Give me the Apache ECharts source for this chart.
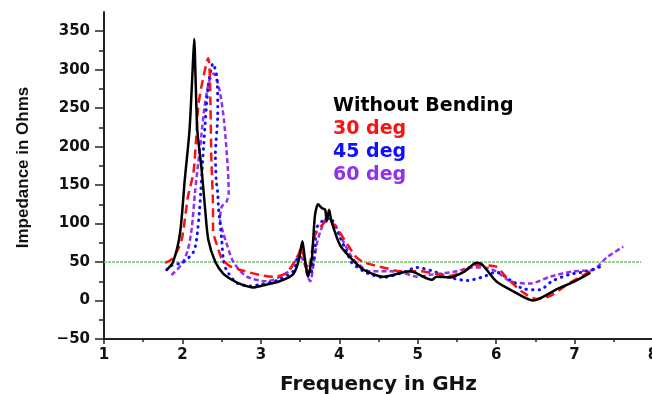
<!DOCTYPE html>
<html>
<head>
<meta charset="utf-8">
<script src="https://cdn.jsdelivr.net/npm/echarts@6/dist/echarts.min.js"></script>
<style>
html,body{margin:0;padding:0;background:#fff;}
#chart{width:652px;height:394px;}
</style>
</head>
<body>
<div id="chart"></div>
<script>
// Frequency (GHz), impedance (Ohms) pairs
var withoutBending = [[1.80,40],[1.88,50],[1.97,88],[2.03,157],[2.09,221],[2.13,300],[2.15,340],[2.17,280],[2.19,221],[2.245,170],[2.29,118],[2.33,79],[2.42,50],[2.52,35],[2.63,27],[2.75,21],[2.90,17],[3.00,19],[3.24,25],[3.41,34],[3.48,51],[3.53,77],[3.56,55],[3.60,31],[3.65,55],[3.69,111],[3.73,125],[3.78,120],[3.82,118],[3.84,103],[3.87,118],[3.90,103],[4.01,72],[4.14,56],[4.31,40],[4.56,31],[4.90,38],[5.18,27],[5.24,31],[5.41,30],[5.60,38],[5.75,49],[5.82,47],[6.00,25],[6.20,13],[6.47,0],[6.80,16],[7.00,25],[7.20,36]];
var deg30 = [[1.78,49],[1.88,55],[1.99,79],[2.07,135],[2.14,166],[2.18,218],[2.20,251],[2.25,282],[2.33,315],[2.35,290],[2.37,180],[2.39,120],[2.39,92],[2.46,66],[2.50,55],[2.60,45],[2.73,40],[3.00,33],[3.16,31],[3.33,36],[3.48,60],[3.52,70],[3.56,50],[3.60,38],[3.69,85],[3.78,98],[3.86,105],[3.97,94],[4.11,72],[4.22,56],[4.33,49],[4.56,43],[4.78,38],[5.03,38],[5.16,36],[5.41,32],[5.58,38],[5.73,46],[6.00,44],[6.13,30],[6.35,10],[6.52,2],[6.69,6],[6.94,23],[7.26,41]];
var deg45 = [[1.80,40],[1.85,45],[2.01,50],[2.14,63],[2.18,79],[2.22,120],[2.27,200],[2.33,280],[2.39,308],[2.44,290],[2.45,240],[2.42,190],[2.43,157],[2.45,140],[2.46,120],[2.48,100],[2.50,80],[2.52,55],[2.56,40],[2.69,23],[2.86,19],[3.00,21],[3.20,26],[3.41,38],[3.46,53],[3.52,65],[3.58,45],[3.63,34],[3.69,64],[3.71,94],[3.78,103],[3.88,107],[4.01,82],[4.10,62],[4.16,49],[4.35,36],[4.56,30],[4.80,36],[4.99,43],[5.20,38],[5.41,30],[5.63,26],[5.84,31],[6.00,37],[6.20,25],[6.35,15],[6.56,14],[6.71,25],[6.94,34],[7.16,38],[7.33,44]];
var deg60 = [[1.86,33],[1.99,47],[2.07,66],[2.12,95],[2.16,140],[2.20,178],[2.24,213],[2.28,250],[2.34,285],[2.40,295],[2.47,275],[2.53,234],[2.58,170],[2.59,140],[2.56,128],[2.50,122],[2.48,105],[2.52,88],[2.56,75],[2.65,50],[2.82,31],[3.07,25],[3.33,36],[3.50,57],[3.55,50],[3.60,30],[3.63,25],[3.67,46],[3.71,72],[3.76,90],[3.84,107],[3.92,103],[4.05,77],[4.16,56],[4.22,49],[4.39,38],[4.65,38],[4.82,36],[4.99,31],[5.20,34],[5.50,38],[5.67,43],[5.84,43],[6.00,38],[6.18,25],[6.43,22],[6.69,31],[6.98,38],[7.24,40],[7.41,56],[7.62,70]];
var refLine50 = [[1,50],[7.85,50]];
var yMajorTicks = [-50,0,50,100,150,200,250,300,350];
var yMinorTicks = [-25,25,75,125,175,225,275,325];
var seriesNames = ['Without Bending','30 deg','45 deg','60 deg'];
var seriesColors = ['#000000','#ff1010','#1010ff','#9030f0'];

var tickFont = {fontFamily:'DejaVu Sans', fontWeight:'bold', fontSize:15, color:'#111'};

var chart = echarts.init(document.getElementById('chart'), null, {renderer:'canvas'});
chart.setOption({
  animation:false,
  backgroundColor:'#fff',
  grid:{left:104, top:12, width:549, height:327, containLabel:false, outerBoundsMode:'none'},
  legend:{
    orient:'vertical', left:323, top:92, icon:'none', itemWidth:0, itemHeight:18, itemGap:4,
    selectedMode:false,
    textStyle:{fontFamily:'DejaVu Sans', fontWeight:'bold', fontSize:19, lineHeight:18},
    data:seriesNames.map(function(n,i){return {name:n, textStyle:{color:seriesColors[i]}};})
  },
  xAxis:{
    type:'value', min:1, max:8, interval:1,
    name:'Frequency in GHz', nameLocation:'middle', nameGap:36,
    nameTextStyle:{fontFamily:'DejaVu Sans', fontWeight:'bold', fontSize:20, color:'#111'},
    axisLine:{show:true, onZero:false, lineStyle:{color:'#222', width:2}},
    axisTick:{show:true, length:5, lineStyle:{color:'#222', width:1.5}},
    minorTick:{show:true, splitNumber:2, length:3, lineStyle:{color:'#222', width:1.5}},
    axisLabel:Object.assign({margin:9}, tickFont),
    splitLine:{show:false}
  },
  yAxis:[{
    type:'value', min:-50, max:375, interval:50,
    name:'Impedance in Ohms', nameLocation:'middle', nameGap:72, nameRotate:90,
    nameTextStyle:{fontFamily:'Liberation Sans', fontWeight:'bold', fontSize:17, color:'#111', padding:[0,0,0,16]},
    axisLine:{show:true, onZero:false, lineStyle:{color:'#222', width:2}},
    axisTick:{show:true, length:9, customValues:yMajorTicks, lineStyle:{color:'#222', width:1.5}},
    axisLabel:Object.assign({margin:14, customValues:yMajorTicks, formatter:function(v){return v<0?'\u2212'+Math.abs(v):String(v);}}, tickFont),
    splitLine:{show:false}
  },{
    type:'value', min:-50, max:375, position:'left',
    axisLine:{show:false},
    axisTick:{show:true, length:5, customValues:yMinorTicks, lineStyle:{color:'#222', width:1.5}},
    axisLabel:{show:false},
    splitLine:{show:false}
  }],
  series:[
    {name:'50 Ohm', type:'line', data:refLine50, showSymbol:false, symbol:'none', silent:true,
     lineStyle:{color:'#74c474', width:1.5, type:[3,1]}},
    {name:seriesNames[3], type:'line', data:deg60, showSymbol:false, symbol:'none', smooth:0.25,
     lineStyle:{color:seriesColors[3], width:2.5, type:[5,3]}},
    {name:seriesNames[2], type:'line', data:deg45, showSymbol:false, symbol:'none', smooth:0.25,
     lineStyle:{color:seriesColors[2], width:3, type:[0.5,6], cap:'round'}},
    {name:seriesNames[1], type:'line', data:deg30, showSymbol:false, symbol:'none', smooth:0.25,
     lineStyle:{color:seriesColors[1], width:2.5, type:[9,5]}},
    {name:seriesNames[0], type:'line', data:withoutBending, showSymbol:false, symbol:'none', smooth:0.25,
     lineStyle:{color:seriesColors[0], width:2.5}}
  ]
});
</script>
</body>
</html>
